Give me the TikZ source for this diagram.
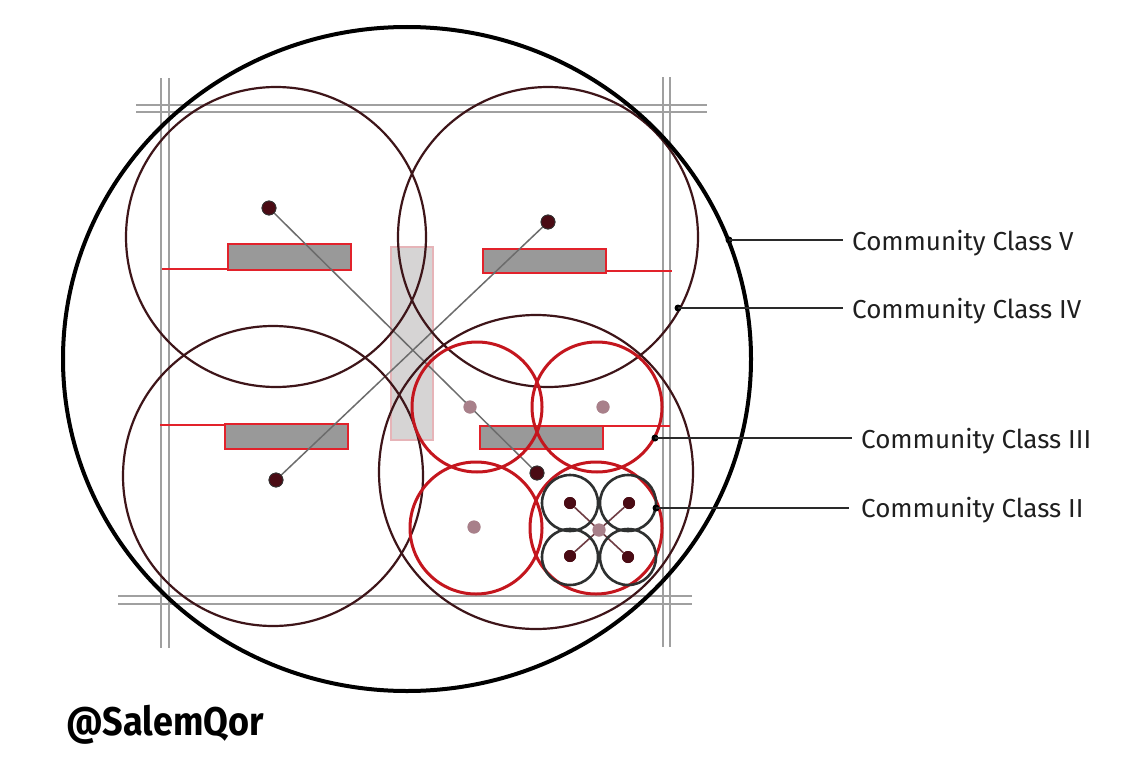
\documentclass[tikz,border=0pt]{standalone}
\usepackage{fontspec}
\setmainfont{Fira Sans}
\definecolor{gridc}{HTML}{A0A0A0}
\definecolor{ivc}{HTML}{3E1519}
\definecolor{redc}{HTML}{C4161E}
\definecolor{iic}{HTML}{2E3030}
\definecolor{dotiv}{HTML}{4A0B14}
\definecolor{dotiii}{HTML}{A8808A}
\definecolor{rectfill}{HTML}{999999}
\definecolor{rectline}{HTML}{E2222B}
\definecolor{vfill}{HTML}{D6D4D4}
\definecolor{vline}{HTML}{E6B4B8}
\definecolor{leadc}{HTML}{2A2A2A}
\tikzset{
  gridline/.style={draw=gridc, line width=2pt},
  bigring/.style={draw=black, line width=4pt},
  ringiv/.style={draw=ivc, line width=2.2pt},
  ringiii/.style={draw=redc, line width=3pt},
  ringii/.style={draw=iic, line width=2.6pt},
  grayrect/.style={fill=rectfill, draw=rectline, line width=2.4pt},
  redrule/.style={draw=rectline, line width=1.6pt},
  vrect/.style={fill=vfill, draw=vline, line width=1.6pt},
  diag/.style={draw=gray!85!black, line width=1.5pt},
  dotIV/.style={circle, fill=dotiv, draw=black!80, line width=0.8pt, minimum size=14pt, inner sep=0pt},
  dotIII/.style={circle, fill=dotiii, minimum size=13pt, inner sep=0pt},
  dotII/.style={circle, fill=dotiv, minimum size=12pt, inner sep=0pt},
  pin/.style={circle, fill=black, minimum size=7pt, inner sep=0pt},
  lead/.style={draw=leadc, line width=2pt},
  lab/.style={anchor=base west, inner sep=0pt, font=\fontsize{26}{28}\selectfont, text=black!88},
}
\begin{document}
\begin{tikzpicture}[x=1pt,y=-1pt]
\useasboundingbox[fill=white] (0,0) rectangle (1124,776);

% construction grid
\draw[gridline] (136,105) -- (707,105);
\draw[gridline] (136,112) -- (707,112);
\draw[gridline] (118,596) -- (692,596);
\draw[gridline] (118,604) -- (692,604);
\draw[gridline] (161,78) -- (161,648);
\draw[gridline] (169,78) -- (169,648);
\draw[gridline] (663,77) -- (663,647);
\draw[gridline] (670,77) -- (670,647);

% central vertical strip
\draw[vrect] (391,247) rectangle (433,440);

% red rules
\draw[redrule] (162,269) -- (228,269);
\draw[redrule] (606,271) -- (672,271);
\draw[redrule] (160,425) -- (225,425);
\draw[redrule] (603,426) -- (670,426);

% gray blocks
\draw[grayrect] (228,244) rectangle (351,270);
\draw[grayrect] (483,249) rectangle (606,273);
\draw[grayrect] (225,424) rectangle (348,449);
\draw[grayrect] (480,426) rectangle (603,449);

% dots (named)
\node[dotIV] (d1) at (269,208) {};
\node[dotIV] (d2) at (548,222) {};
\node[dotIV] (d3) at (276,480) {};
\node[dotIV] (d4) at (537,473) {};
\node[dotIII] (e1) at (470,407) {};
\node[dotIII] (e2) at (603,407) {};
\node[dotIII] (e3) at (474,527) {};
\node[dotIII] (e4) at (599,530) {};
\node[dotII] (f1) at (570,503) {};
\node[dotII] (f2) at (629,503) {};
\node[dotII] (f3) at (570,556) {};
\node[dotII] (f4) at (628,557) {};

% diagonals
\draw[diag] (d1) -- (d4);
\draw[diag] (d2) -- (d3);
\draw[diag, draw=dotiv!80, line width=1.6pt] (f1) -- (f4);
\draw[diag, draw=dotiv!80, line width=1.6pt] (f2) -- (f3);

% Community Class IV rings
\draw[ringiv] (276,237) circle[radius=150];
\draw[ringiv] (548,237) circle[radius=150];
\draw[ringiv] (273,476) circle[radius=150];
\draw[ringiv] (536,472) circle[radius=157];

% Community Class III rings
\draw[ringiii] (477,407) circle[radius=65];
\draw[ringiii] (597,407) circle[radius=65];
\draw[ringiii] (476,528) circle[radius=66];
\draw[ringiii] (596,528) circle[radius=66];

% Community Class II rings
\draw[ringii] (570,503) circle[radius=28];
\draw[ringii] (628,503) circle[radius=28];
\draw[ringii] (570,557) circle[radius=28];
\draw[ringii] (628,557) circle[radius=28];

% Community Class V ring
\draw[bigring] (407,359) ellipse[x radius=344, y radius=332];

% redraw dots on top
\node[dotIV] at (d1) {};
\node[dotIV] at (d2) {};
\node[dotIV] at (d3) {};
\node[dotIV] at (d4) {};
\node[dotIII] at (e1) {};
\node[dotIII] at (e2) {};
\node[dotIII] at (e3) {};
\node[dotIII] at (e4) {};
\node[dotII] at (f1) {};
\node[dotII] at (f2) {};
\node[dotII] at (f3) {};
\node[dotII] at (f4) {};

% pins on rings
\node[pin] (pV) at (729,240) {};
\node[pin] (pIV) at (678,308) {};
\node[pin] (pIII) at (655,438) {};
\node[pin] (pII) at (656,508) {};

% labels
\node[lab] (lV) at (852,250) {Community Class V};
\node[lab] (lIV) at (852,318) {Community Class IV};
\node[lab] (lIII) at (861,448) {Community Class III};
\node[lab] (lII) at (861,517) {Community Class II};

\draw[lead] (pV.center) -- ([xshift=-9pt]lV.west |- pV.center);
\draw[lead] (pIV.center) -- ([xshift=-9pt]lIV.west |- pIV.center);
\draw[lead] (pIII.center) -- ([xshift=-9pt]lIII.west |- pIII.center);
\draw[lead] (pII.center) -- ([xshift=-12pt]lII.west |- pII.center);

% signature
\node[anchor=base west, inner sep=0pt] (sig) at (66,735)
  {\scalebox{0.9}[1]{\fontsize{40}{44}\selectfont\bfseries @SalemQor}};
\end{tikzpicture}
\end{document}
